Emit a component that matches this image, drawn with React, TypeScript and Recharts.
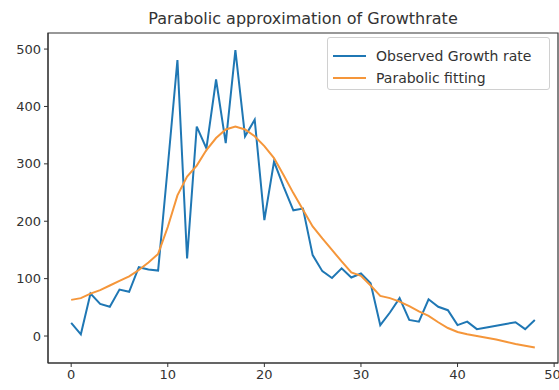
import { Line, LineChart, XAxis, YAxis, ReferenceArea } from "recharts"

const days = [
  0, 1, 2, 3, 4, 5, 6, 7, 8, 9, 10, 11, 12, 13, 14, 15, 16, 17, 18, 19, 20, 21, 22, 23, 24,
  25, 26, 27, 28, 29, 30, 31, 32, 33, 34, 35, 36, 37, 38, 39, 40, 41, 42, 43, 44, 45, 46, 47, 48,
]

const observed = [
  23, 3, 74, 56, 51, 81, 77, 120, 116, 114, 295, 481, 135, 365, 327, 447, 336, 498, 348, 377,
  202, 304, 260, 219, 222, 141, 113, 101, 118, 102, 109, 92, 19, 41, 66, 28, 25, 64, 51, 45,
  19, 25, 12, 15, 18, 21, 24, 12, 28,
]

const fitted = [
  63, 66, 74, 80, 88, 96, 104, 115, 128, 143, 190, 245, 278, 297, 324, 345, 360, 365, 360, 348,
  331, 310, 280, 249, 220, 191, 170, 150, 130, 111, 105, 88, 70, 66, 60, 52, 43, 35, 24, 14,
  7, 3, 0, -3, -6, -10, -14, -17, -20,
]

const xTicks = [0, 10, 20, 30, 40, 50]
const yTicks = [0, 100, 200, 300, 400, 500]

const series = [
  { key: "observed", name: "Observed Growth rate", color: "#1f77b4" },
  { key: "fitted", name: "Parabolic fitting", color: "#f5963a" },
]

const data = days.map((d, i) => ({ day: d, observed: observed[i], fitted: fitted[i] }))

const font = "DejaVu Sans, sans-serif"
const tickStyle = { fontSize: 13, fill: "#333", fontFamily: font }

function LegendBox() {
  return (
    <div
      style={{
        position: "absolute",
        left: 327,
        top: 37,
        width: 223,
        height: 53,
        border: "1px solid #d0d0d0",
        borderRadius: 3,
        background: "rgba(255,255,255,0.85)",
        padding: "7px 0 3px 5px",
        fontFamily: font,
        fontSize: 14,
        color: "#333",
        boxSizing: "border-box",
      }}
    >
      {series.map((s) => (
        <div key={s.key} style={{ display: "flex", alignItems: "center", height: 22 }}>
          <span style={{ display: "inline-block", width: 33, height: 2, background: s.color }} />
          <span style={{ marginLeft: 10 }}>{s.name}</span>
        </div>
      ))}
    </div>
  )
}

export default function App() {
  return (
    <div style={{ position: "absolute", left: 0, top: 0, width: 559, height: 390, background: "#fff" }}>
      <div
        style={{
          position: "absolute",
          left: 48,
          top: 9,
          width: 510,
          textAlign: "center",
          fontFamily: font,
          fontSize: 16,
          color: "#333",
        }}
      >
        Parabolic approximation of Growthrate
      </div>
      <LineChart width={559} height={390} data={data} margin={{ top: 33, right: 1, bottom: 0, left: 0 }}>
        <XAxis
          dataKey="day"
          type="number"
          domain={[-2.4, 50.4]}
          ticks={xTicks}
          allowDataOverflow
          height={27}
          tickSize={4}
          tickMargin={3}
          tick={tickStyle}
          stroke="#333"
        />
        <YAxis
          type="number"
          domain={[-47, 528]}
          ticks={yTicks}
          allowDataOverflow
          width={48}
          tickSize={4}
          tickMargin={3}
          tick={tickStyle}
          stroke="#333"
        />
        <ReferenceArea x1={-2.4} x2={50.4} y1={-47} y2={528} fill="none" stroke="#333" strokeWidth={1.2} />
        {series.map((s) => (
          <Line
            key={s.key}
            dataKey={s.key}
            name={s.name}
            stroke={s.color}
            strokeWidth={2}
            dot={false}
            type="linear"
            isAnimationActive={false}
          />
        ))}
      </LineChart>
      <LegendBox />
    </div>
  )
}
